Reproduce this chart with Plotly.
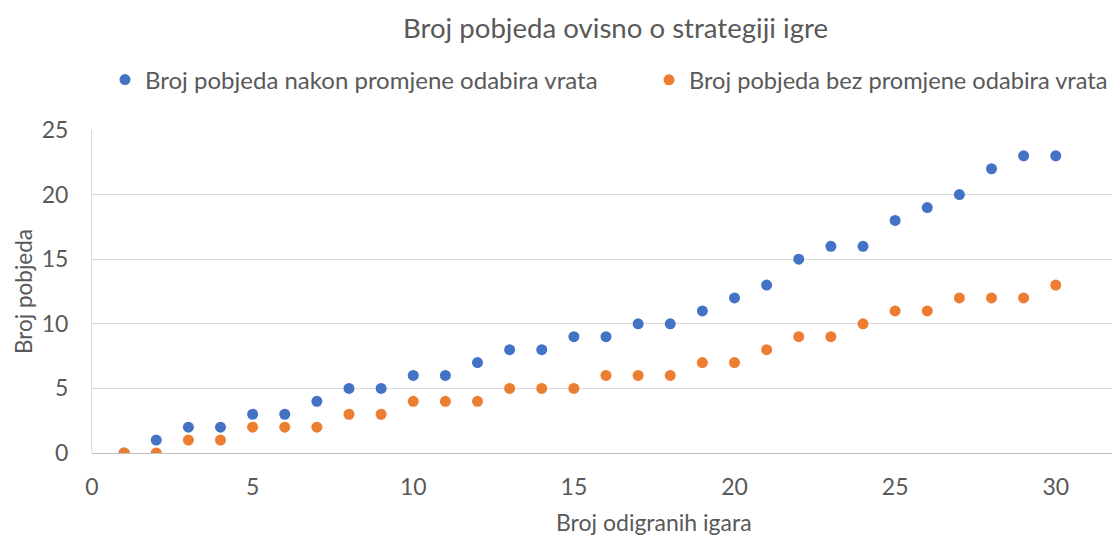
import plotly.graph_objects as go

games = list(range(1, 31))
wins_switch = [0, 1, 2, 2, 3, 3, 4, 5, 5, 6, 6, 7, 8, 8, 9, 9, 10, 10, 11, 12,
               13, 15, 16, 16, 18, 19, 20, 22, 23, 23]
wins_stay = [0, 0, 1, 1, 2, 2, 2, 3, 3, 4, 4, 4, 5, 5, 5, 6, 6, 6, 7, 7,
             8, 9, 9, 10, 11, 11, 12, 12, 12, 13]
name_switch = "Broj pobjeda nakon promjene odabira vrata"
name_stay = "Broj pobjeda bez promjene odabira vrata"
title = "Broj pobjeda ovisno o strategiji igre"
x_title = "Broj odigranih igara"
y_title = "Broj pobjeda"
x_ticks = [0, 5, 10, 15, 20, 25, 30]
y_ticks = [0, 5, 10, 15, 20, 25]

FONT = "Lato"
TXT = "#595959"
# the page body has an 8px margin; the figure is sized so it ends at the window edge
W, H = 1112, 528
L, T, B = 84, 122, 83
PW, PH = W - L, H - T - B

fig = go.Figure()
fig.add_trace(go.Scatter(x=games, y=wins_switch, mode="markers", name=name_switch,
                         legend="legend",
                         marker=dict(color="#4472C4", size=11)))
fig.add_trace(go.Scatter(x=games, y=wins_stay, mode="markers", name=name_stay,
                         legend="legend2",
                         marker=dict(color="#ED7D31", size=11)))

leg_common = dict(orientation="h", xanchor="left", yanchor="middle",
                  xref="container", yref="container", y=1 - 72 / H,
                  bgcolor="rgba(0,0,0,0)", borderwidth=0)

fig.update_layout(
    template="none",
    width=W, height=H,
    margin=dict(l=L, r=0, t=T, b=B, autoexpand=False),
    paper_bgcolor="white", plot_bgcolor="white",
    font=dict(family=FONT, color=TXT, size=22),
    title=dict(text=title, x=607.5 / W, xanchor="center", xref="container",
               y=1 - 20 / H, yanchor="middle", yref="container",
               font=dict(size=27.6, color=TXT, family=FONT)),
    legend=dict(x=97 / W, font=dict(size=24, color=TXT, family=FONT), **leg_common),
    legend2=dict(x=641 / W, font=dict(size=23.6, color=TXT, family=FONT), **leg_common),
    showlegend=True,
)
fig.update_xaxes(range=[0, 32], tickvals=x_ticks, showgrid=False, zeroline=False,
                 showline=False, ticks="", ticklabelstandoff=18, automargin=False,
                 tickfont=dict(size=23, color=TXT, family=FONT))
fig.update_yaxes(range=[0, 25], tickvals=y_ticks, showgrid=True, gridcolor="#D9D9D9",
                 gridwidth=1, zeroline=True, zerolinecolor="#BFBFBF", zerolinewidth=1,
                 showline=True, linecolor="#D9D9D9", linewidth=1, ticks="",
                 ticklabelstandoff=18, automargin=False,
                 tickfont=dict(size=23, color=TXT, family=FONT))
fig.add_annotation(text=y_title, xref="paper", yref="paper", x=-68.5 / PW, y=0.5,
                   textangle=-90, showarrow=False, xanchor="center", yanchor="middle",
                   borderpad=0,
                   font=dict(size=22.5, color=TXT, family=FONT))
fig.add_annotation(text=x_title, xref="x", yref="paper", x=(654 - 92) / (PW / 32),
                   y=-69 / PH, showarrow=False, xanchor="center", yanchor="middle",
                   font=dict(size=23, color=TXT, family=FONT))

fig.write_html("out.html")
